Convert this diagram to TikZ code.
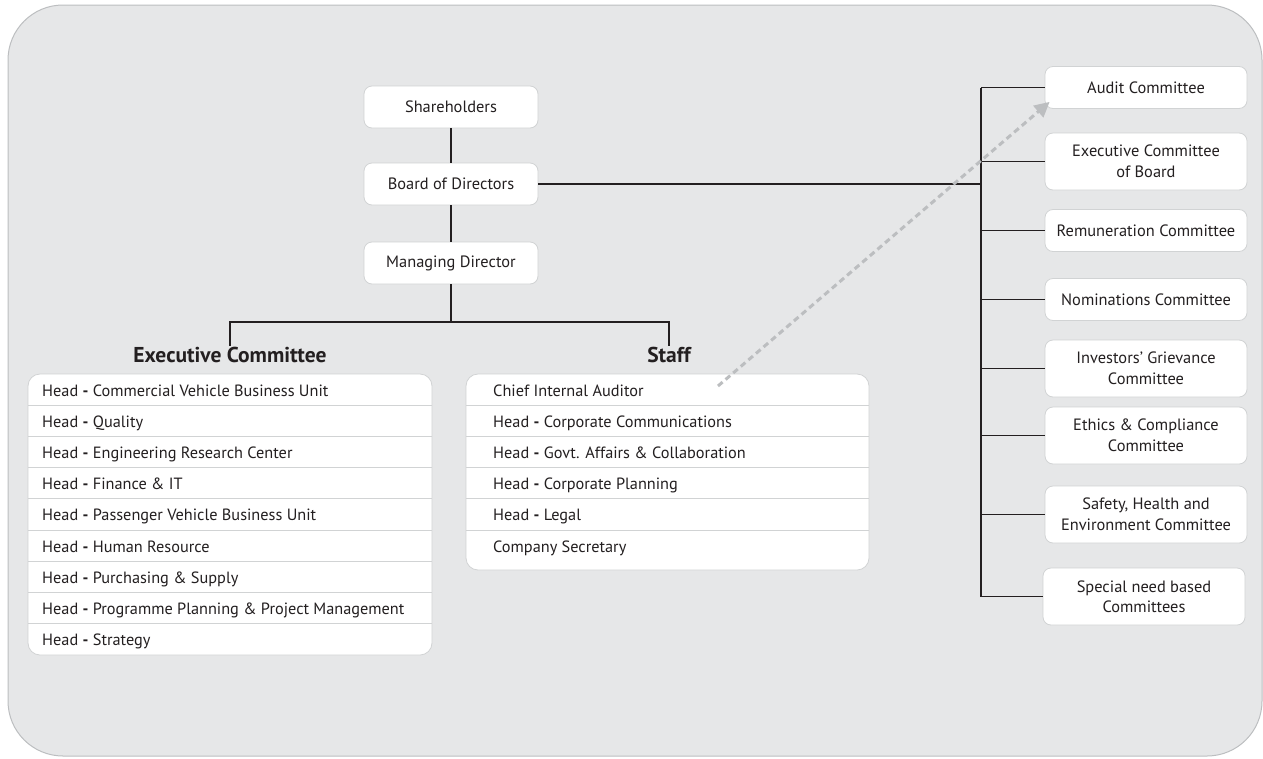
\documentclass[tikz,border=0pt]{standalone}
\usepackage{fontspec}
\setmainfont{PT Sans}
\usetikzlibrary{arrows.meta}

\definecolor{panel}{HTML}{E6E7E8}
\definecolor{panelline}{HTML}{BCBEC0}
\definecolor{boxline}{HTML}{D1D3D4}
\definecolor{ink}{HTML}{231F20}

\tikzset{
  orgbox/.style={draw=boxline,fill=white,rounded corners=8pt,line width=0.8pt,
    minimum width=174pt,minimum height=42pt,text=ink,
    font=\fontsize{16.4}{20.5}\selectfont},
  comm/.style={orgbox,minimum width=202pt,align=center},
  conn/.style={draw=ink,line width=1.8pt},
  grouptitle/.style={text=ink,font=\fontsize{21.5}{24}\selectfont\bfseries,inner sep=1pt},
  listbox/.style={draw=boxline,fill=white,rounded corners=12pt,line width=0.8pt},
  divider/.style={draw=boxline,line width=0.8pt},
  row/.style={anchor=west,text=ink,inner sep=0pt,text height=12pt,text depth=3pt,
    font=\fontsize{16.3}{19}\selectfont},
  audarrow/.style={draw=panelline,line width=3pt,dash pattern=on 6pt off 4pt,
    -{Triangle[length=15pt,width=15pt]}}
}
\newcommand{\hd}{Head \textbf{-} }

\begin{document}
\begin{tikzpicture}[x=1pt,y=-1pt]
  \useasboundingbox (0,0) rectangle (1263,758);

  % fond
  \draw[fill=panel,draw=panelline,line width=1pt,rounded corners=55pt] (8,5) rectangle (1262,756);

  % direction
  \node[orgbox] (sh)  at (451,107) {Shareholders};
  \node[orgbox] (bod) at (451,184) {Board of Directors};
  \node[orgbox] (md)  at (451,263) {Managing Director};
  \draw[conn] (sh) -- (bod);
  \draw[conn] (bod) -- (md);

  \node[grouptitle,anchor=north] (ect) at (230,346) {Executive Committee};
  \node[grouptitle,anchor=north] (stf) at (669,346) {Staff};
  \draw[conn] (md.south) -- (md.south |- 0,322) coordinate (fork);
  \draw[conn] (ect.north) |- (fork) -| (stf.north);

  % liste Executive Committee
  \draw[listbox] (28,374) rectangle (432,655);
  \foreach \i in {1,...,8}{
    \draw[divider] (28,{374+31.2*\i}) -- (432,{374+31.2*\i});
  }
  \foreach \i/\t in {
      1/Commercial Vehicle Business Unit,
      2/Quality,
      3/Engineering Research Center,
      4/Finance \& IT,
      5/Passenger Vehicle Business Unit,
      6/Human Resource,
      7/Purchasing \& Supply,
      8/Programme Planning \& Project Management,
      9/Strategy}{
    \node[row] (ex\i) at (42,{376+31.2*(\i-0.5)}) {\hd\t};
  }

  % liste Staff
  \draw[listbox] (466,374) rectangle (869,570);
  \foreach \i in {1,...,5}{
    \draw[divider] (466,{374+31.2*\i}) -- (869,{374+31.2*\i});
  }
  \node[row] (st1) at (493,{376+31.2*0.5}) {Chief Internal Auditor};
  \node[row] (st2) at (493,{376+31.2*1.5}) {\hd Corporate Communications};
  \node[row] (st3) at (493,{376+31.2*2.5}) {\hd Govt. Affairs \& Collaboration};
  \node[row] (st4) at (493,{376+31.2*3.5}) {\hd Corporate Planning};
  \node[row] (st5) at (493,{376+31.2*4.5}) {\hd Legal};
  \node[row] (st6) at (493,{376+31.2*5.5}) {Company Secretary};

  % comites du conseil
  \node[comm] (c1) at (1146,87.5) {Audit Committee};
  \node[comm,minimum height=57pt] (c2) at (1146,161.5) {Executive Committee\\of Board};
  \node[comm] (c3) at (1146,230.5) {Remuneration Committee};
  \node[comm] (c4) at (1146,299.5) {Nominations Committee};
  \node[comm,minimum height=57pt] (c5) at (1146,368.5) {Investors' Grievance\\Committee};
  \node[comm,minimum height=57pt] (c6) at (1146,435.5) {Ethics \& Compliance\\Committee};
  \node[comm,minimum height=57pt] (c7) at (1146,514.5) {Safety, Health and\\Environment Committee};
  \node[comm,minimum height=57pt] (c8) at (1144,596.5) {Special need based\\Committees};

  \coordinate (spine) at (981,0);
  \draw[conn] (c1.west -| spine) -- (c8.west -| spine);
  \foreach \i in {1,...,8}{
    \draw[conn] (c\i.west) -- (c\i.west -| spine);
  }
  \draw[conn] (bod.east) -- (bod.east -| spine);

  % lien auditeur interne
  \coordinate (cia) at (718,386);
  \draw[audarrow] (cia) -- ([shift={(5,-7)}]c1.south west);
\end{tikzpicture}
\end{document}
